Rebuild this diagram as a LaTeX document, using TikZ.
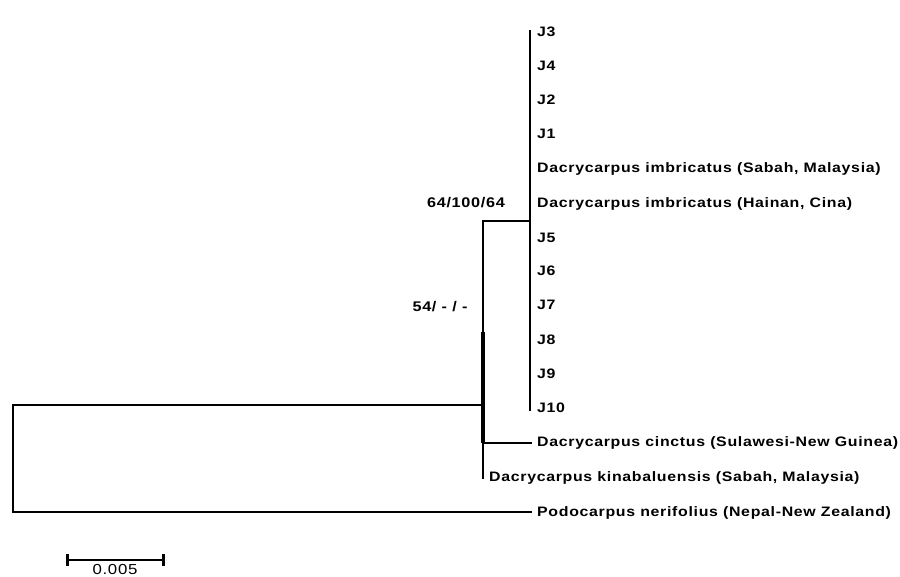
\documentclass[tikz,border=0pt]{standalone}
\usepackage{fontspec}
\setmainfont{Liberation Sans}[FakeStretch=1.16,LetterSpace=5]
\begin{document}
\begin{tikzpicture}[x=1pt,y=-1pt,
  br/.style={line width=1.5pt,line cap=rect},
  lab/.style={anchor=base west,inner sep=0pt,font=\fontsize{13.7}{15}\selectfont\bfseries},
  sup/.style={anchor=base,inner sep=0pt,font=\fontsize{14}{15}\selectfont\bfseries}]
\useasboundingbox (0,0) rectangle (900,576);
% coordinates
\coordinate (root) at (13,405);
\coordinate (n1) at (483,405);
\coordinate (n1t) at (483,221);
\coordinate (n1b) at (483,478);
\coordinate (n2) at (530,221);
\coordinate (n2t) at (530,31);
\coordinate (n2b) at (530,410);
\coordinate (ci) at (483,443);
\coordinate (cie) at (531,443);
\coordinate (rb) at (13,512);
\coordinate (pe) at (531,512);
% branches
\draw[br] (rb) -- (root) -- (n1);
\draw[br] (rb) -- (pe);
\draw[br] (n1t) -- (n1b);
\draw[line width=4pt] (483,332) -- (483,443);
\draw[br] (n1t) -- (n2);
\draw[br] (n2t) -- (n2b);
\draw[br] (ci) -- (cie);
% labels
\node[lab] (J3) at (537,36) {J3};
\node[lab] (J4) at (537,70.5) {J4};
\node[lab] (J2) at (537,104.5) {J2};
\node[lab] (J1) at (537,138.5) {J1};
\node[lab] (DS) at (537,172.5) {Dacrycarpus imbricatus (Sabah, Malaysia)};
\node[lab] (DH) at (537,207) {Dacrycarpus imbricatus (Hainan, Cina)};
\node[lab] (J5) at (537,242) {J5};
\node[lab] (J6) at (537,275.5) {J6};
\node[lab] (J7) at (537,309.5) {J7};
\node[lab] (J8) at (537,344) {J8};
\node[lab] (J9) at (537,378.5) {J9};
\node[lab] (J10) at (537,412.5) {J10};
\node[lab] (DC) at (537,446.5) {Dacrycarpus cinctus (Sulawesi-New Guinea)};
\node[lab] (DK) at (489,481.5) {Dacrycarpus kinabaluensis (Sabah, Malaysia)};
\node[lab] (PN) at (537,516.5) {Podocarpus nerifolius (Nepal-New Zealand)};
\node[sup] (s1) at (466,207) {64/100/64};
\node[sup] (s2) at (440,311.5) {54/ - / -};
% scale bar
\coordinate (sa) at (67,560);
\coordinate (sb) at (163,560);
\draw[line width=2.5pt] (sa) -- (sb);
\draw[line width=3pt] (67,554) -- (67,566);
\draw[line width=3pt] (163,554) -- (163,566);
\node[anchor=base,inner sep=0pt,font=\fontsize{14.5}{16}\selectfont] (sl) at (115,574.5) {0.005};
\end{tikzpicture}
\end{document}
